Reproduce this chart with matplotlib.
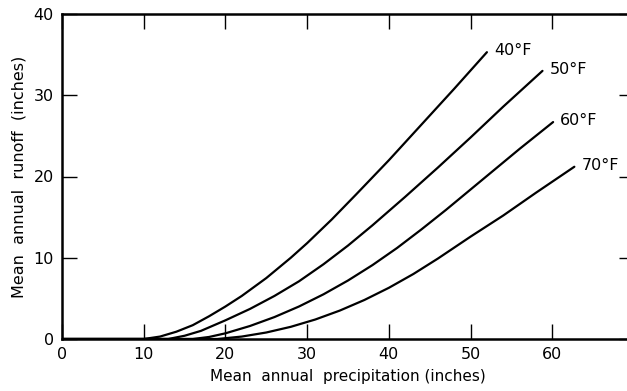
# Mean annual runoff vs. mean annual precipitation, by mean annual temperature
import matplotlib
matplotlib.use('Agg')
import matplotlib.pyplot as plt

# %% data
x_40 = [0, 10, 12, 14, 16, 18, 20, 22, 25, 28, 30, 33, 36, 40, 44, 48, 52]
y_40 = [0, 0, 0.3, 0.9, 1.7, 2.8, 4.0, 5.3, 7.5, 10.0, 11.8, 14.7, 17.8,
        22.0, 26.4, 30.8, 35.3]

x_50 = [0, 13, 15, 17, 20, 23, 26, 29, 32, 35, 38, 42, 46, 50, 54, 58.8]
y_50 = [0, 0, 0.4, 1.0, 2.3, 3.7, 5.3, 7.1, 9.2, 11.5, 14.0, 17.5, 21.1,
        24.8, 28.6, 33.0]

x_60 = [0, 16, 18, 20, 23, 26, 29, 32, 35, 38, 41, 44, 47, 50, 53, 56, 60.1]
y_60 = [0, 0, 0.25, 0.7, 1.6, 2.7, 4.0, 5.5, 7.2, 9.1, 11.2, 13.5, 15.9,
        18.4, 20.9, 23.4, 26.7]

x_70 = [0, 19, 22, 25, 28, 31, 34, 37, 40, 43, 46, 50, 54, 58, 62.7]
y_70 = [0, 0, 0.3, 0.8, 1.5, 2.4, 3.5, 4.8, 6.3, 8.0, 9.9, 12.6, 15.2,
        18.0, 21.2]

curves = [(x_40, y_40, '40°F'), (x_50, y_50, '50°F'),
          (x_60, y_60, '60°F'), (x_70, y_70, '70°F')]

x_ticks = [0, 10, 20, 30, 40, 50, 60]
y_ticks = [0, 10, 20, 30, 40]

# %% figure
fig = plt.figure(figsize=(6.27, 3.91), dpi=100)
ax = fig.add_axes([62 / 627, 52 / 391, 572 / 627, 325 / 391])

for xs, ys, label in curves:
    ax.plot(xs, ys, color='black', lw=1.6, solid_capstyle='round')
    ax.annotate(label, (xs[-1], ys[-1]), xytext=(5, 1),
                textcoords='offset points', va='center', ha='left',
                fontsize=11.5)

ax.set_xlim(0, 70)
ax.set_ylim(0, 40)
ax.set_xticks(x_ticks)
ax.set_yticks(y_ticks)
ax.tick_params(direction='in', length=11, width=1.0, labelsize=11.5,
               top=True, right=True, pad=6, color='black')
for side in ['left', 'bottom', 'top']:
    ax.spines[side].set_linewidth(1.8)
ax.spines['right'].set_visible(False)

ax.set_xlabel('Mean  annual  precipitation (inches)', fontsize=11, labelpad=5)
ax.set_ylabel('Mean  annual  runoff  (inches)', fontsize=11.5, labelpad=5)

fig.savefig('out.png', dpi=100)
